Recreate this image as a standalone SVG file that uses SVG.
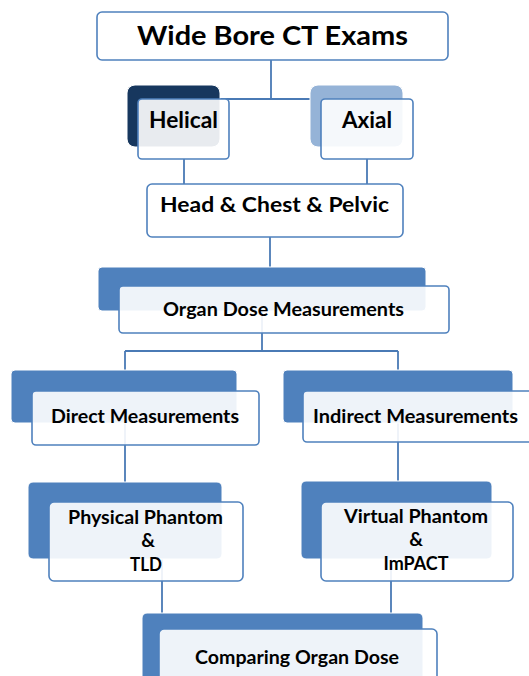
<svg xmlns="http://www.w3.org/2000/svg" width="529" height="676" viewBox="0 0 529 676">
<style>
.back{fill:#4f81bd;stroke:#ffffff;stroke-width:1}
.front{fill:#ffffff;fill-opacity:0.9;stroke:#4f81bd;stroke-width:1.6}
.conn{fill:none;stroke:#4a7ab5;stroke-width:1.8}
text{font-family:Lato,"Liberation Sans",sans-serif;font-weight:bold;fill:#000;text-anchor:middle}
.t20{font-size:19px}
.t22{font-size:21px}
</style>
<rect width="529" height="676" fill="#ffffff"/>
<g id="connectors">
<path class="conn" d="M271,60 V99 M184,99 H367 M184,159 V184 M367,159 V184"/>
<path class="conn" d="M270,237 V267"/>
<path class="conn" d="M262,311 V351 M125,351 H398 M125,351 V370 M398,351 V370"/>
<path class="conn" d="M125,423 V482 M398,423 V481"/>
<path class="conn" d="M162,559 V613 M391,559 V613"/>
</g>
<g id="wide-bore">
<rect x="97" y="12" width="351" height="48" rx="5" fill="#ffffff" stroke="#4f81bd" stroke-width="1.6"/>
<text x="272.5" y="45" style="font-size:27px" textLength="271" lengthAdjust="spacingAndGlyphs">Wide Bore CT Exams</text>
</g>
<g id="helical">
<rect x="127" y="85" width="93" height="62" rx="8" fill="#17375e" stroke="#ffffff" stroke-width="1"/>
<rect class="front" x="138" y="99" width="91" height="60" rx="4"/>
<text x="183.5" y="128" style="font-size:22.5px" textLength="69" lengthAdjust="spacingAndGlyphs">Helical</text>
</g>
<g id="axial">
<rect x="310" y="85" width="93" height="62" rx="8" fill="#95b3d7" stroke="#ffffff" stroke-width="1"/>
<rect class="front" x="321" y="99" width="92" height="60" rx="4"/>
<text x="367" y="128" style="font-size:22.5px" textLength="50" lengthAdjust="spacingAndGlyphs">Axial</text>
</g>
<g id="regions">
<rect x="147" y="184" width="256" height="53" rx="5" fill="#ffffff" stroke="#4f81bd" stroke-width="1.6"/>
<text x="274.5" y="212" class="t22" textLength="229" lengthAdjust="spacingAndGlyphs">Head &amp; Chest &amp; Pelvic</text>
</g>
<g id="organ-dose">
<rect class="back" x="98" y="267" width="328" height="44" rx="4"/>
<rect class="front" x="119" y="286" width="330" height="47" rx="4"/>
<text x="283.5" y="316" class="t20" textLength="241" lengthAdjust="spacingAndGlyphs">Organ Dose Measurements</text>
</g>
<g id="direct">
<rect class="back" x="11" y="370" width="226" height="53" rx="4"/>
<rect class="front" x="32" y="391" width="227" height="54" rx="4"/>
<text x="145" y="423" class="t20" textLength="188" lengthAdjust="spacingAndGlyphs">Direct Measurements</text>
</g>
<g id="indirect">
<rect class="back" x="283" y="370" width="230" height="53" rx="4"/>
<rect class="front" x="303" y="391" width="240" height="51" rx="4"/>
<text x="415.5" y="423" class="t20" textLength="205" lengthAdjust="spacingAndGlyphs">Indirect Measurements</text>
</g>
<g id="physical">
<rect class="back" x="28" y="482" width="194" height="77" rx="5"/>
<rect class="front" x="49" y="502" width="194" height="79" rx="5"/>
<text x="145.5" y="524" class="t20" textLength="155" lengthAdjust="spacingAndGlyphs">Physical Phantom</text>
<text x="148" y="547" class="t20">&amp;</text>
<text x="146" y="571" class="t20" textLength="32" lengthAdjust="spacingAndGlyphs">TLD</text>
</g>
<g id="virtual">
<rect class="back" x="301" y="481" width="191" height="78" rx="5"/>
<rect class="front" x="321" y="502" width="192" height="79" rx="5"/>
<text x="416" y="523" class="t20" textLength="144" lengthAdjust="spacingAndGlyphs">Virtual Phantom</text>
<text x="416" y="546" class="t20">&amp;</text>
<text x="416" y="570" class="t20" textLength="65" lengthAdjust="spacingAndGlyphs">ImPACT</text>
</g>
<g id="comparing">
<rect class="back" x="142" y="613" width="281" height="70" rx="5"/>
<rect class="front" x="159" y="629" width="278" height="60" rx="5"/>
<text x="297" y="664" class="t20" textLength="204" lengthAdjust="spacingAndGlyphs">Comparing Organ Dose</text>
</g>
</svg>
